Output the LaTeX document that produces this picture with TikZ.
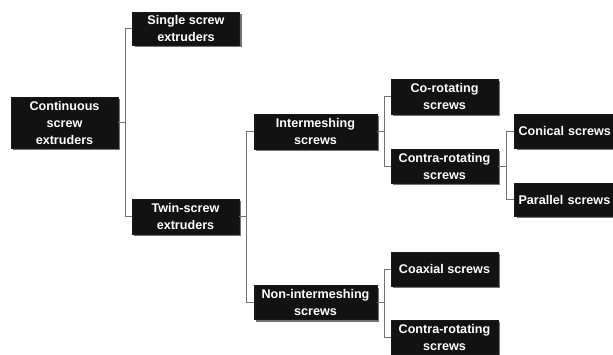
\documentclass[tikz,border=0pt]{standalone}
\usepackage{fontspec}
\setmainfont{Liberation Sans}
\usetikzlibrary{shadows}
\begin{document}
\begin{tikzpicture}[x=1pt,y=-1pt,
  box/.style={draw=black!90,fill=black!93,text=white,font=\bfseries\fontsize{12.6}{17}\selectfont,
    align=center,inner sep=1pt,minimum width=107pt,
    drop shadow={shadow xshift=2pt,shadow yshift=-2pt,fill=black!55,opacity=1}},
  link/.style={draw=black!55,line width=0.9pt}]
\useasboundingbox (0,0) rectangle (613,354);
\node[box,minimum height=51pt] (cont) at (64.5,122.5) {Continuous\\screw\\extruders};
\node[box,minimum height=33pt] (single) at (186,28.5) {Single screw\\extruders};
\node[box,minimum height=35pt] (twin) at (185.5,216.5) {Twin-screw\\extruders};
\node[box,minimum height=35pt,minimum width=123pt] (inter) at (315.5,131.5) {Intermeshing\\screws};
\node[box,minimum height=34pt,minimum width=123pt] (non) at (315.5,302.5) {Non-intermeshing\\screws};
\node[box,minimum height=35pt] (co) at (444.5,96.5) {Co-rotating\\screws};
\node[box,minimum height=34pt] (contra) at (444.5,166) {Contra-rotating\\screws};
\node[box,minimum height=34pt] (coax) at (444.5,269) {Coaxial screws};
\node[box,minimum height=34pt] (contra2) at (444.5,337) {Contra-rotating\\screws};
\node[box,minimum height=34pt,text width=99pt,align=left] (conical) at (568,131) {Conical screws};
\node[box,minimum height=33pt,text width=99pt,align=left] (parallel) at (568,199.5) {Parallel screws};
\coordinate (j1) at (125,122.5);
\coordinate (j2) at (246.5,216.5);
\coordinate (j3) at (384.5,131.5);
\coordinate (j4) at (384.5,302.5);
\coordinate (j5) at (506,166);
\draw[link] (cont.east) -- (j1);
\draw[link] (j1) |- (single.west);
\draw[link] (j1) |- (twin.west);
\draw[link] (twin.east) -- (j2);
\draw[link] (j2) |- (inter.west);
\draw[link] (j2) |- (non.west);
\draw[link] (inter.east) -- (j3);
\draw[link] (j3) |- (co.west);
\draw[link] (j3) |- (contra.west);
\draw[link] (non.east) -- (j4);
\draw[link] (j4) |- (coax.west);
\draw[link] (j4) |- (contra2.west);
\draw[link] (contra.east) -- (j5);
\draw[link] (j5) |- (conical.west);
\draw[link] (j5) |- (parallel.west);
\end{tikzpicture}
\end{document}
